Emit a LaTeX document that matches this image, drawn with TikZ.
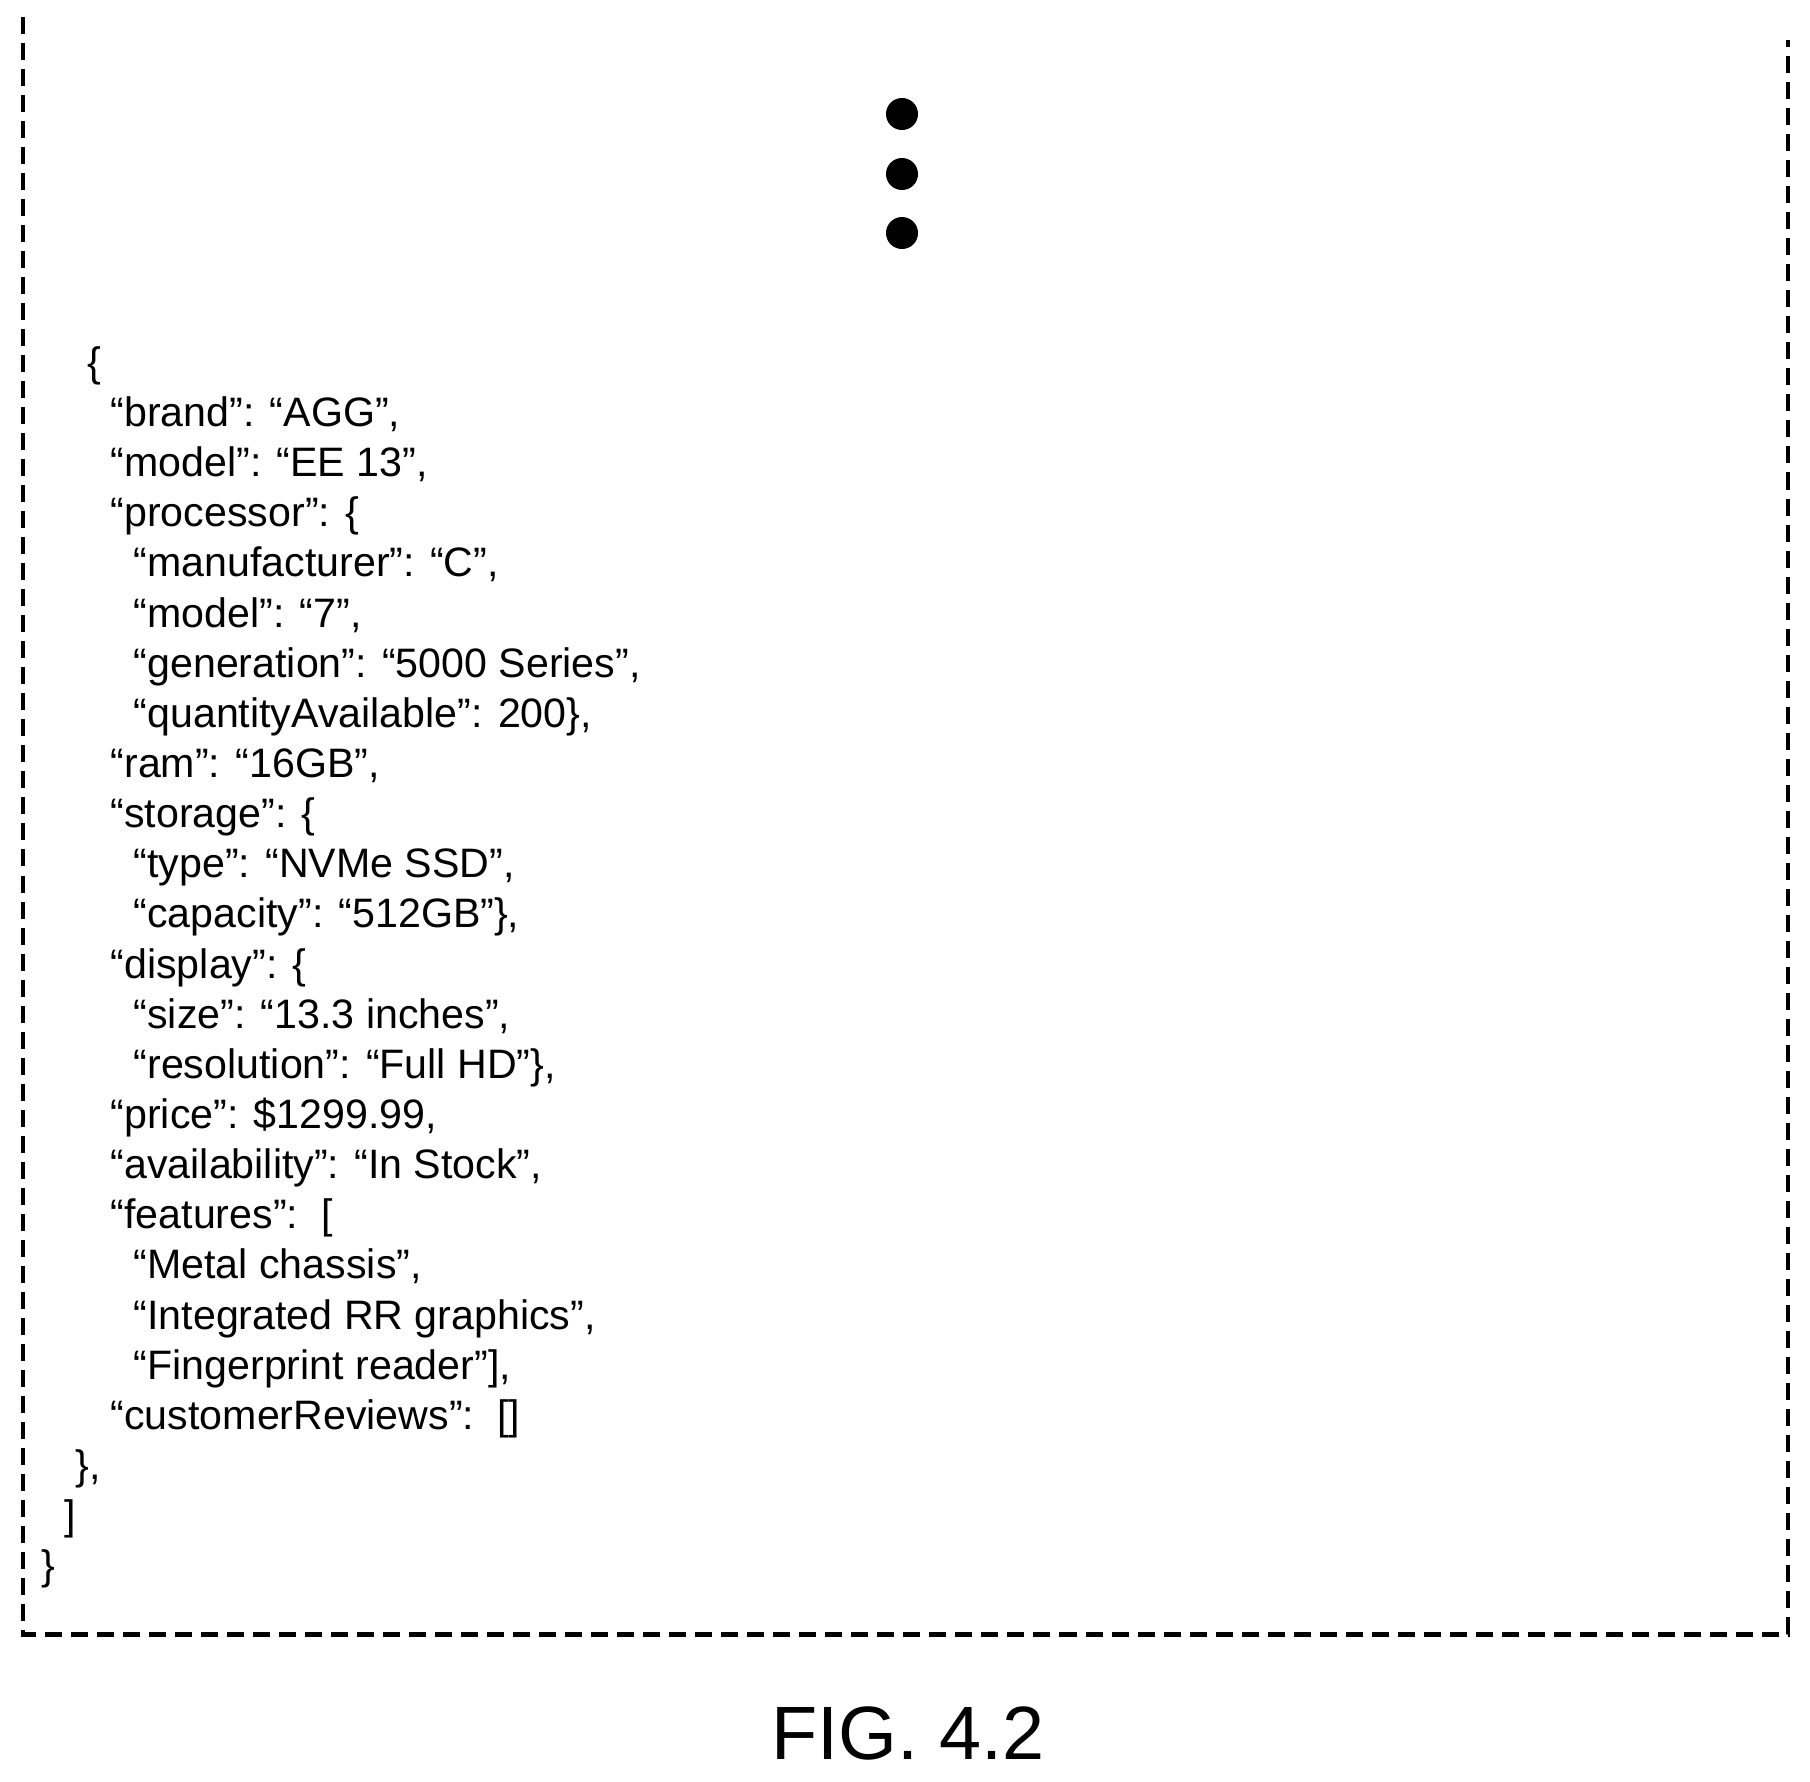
\documentclass[tikz,border=0pt]{standalone}
\usepackage{fontspec}
\setmainfont{Liberation Sans}
\usetikzlibrary{positioning}

\begin{document}
\begin{tikzpicture}[x=0.01cm,y=-0.01cm]
\tikzstyle{frame}=[line width=1.4pt,dash pattern=on 0.17cm off 0.09cm]
\tikzstyle{code}=[anchor=base west,inner sep=0pt,font=\fontsize{11.7pt}{14pt}\selectfont]
\tikzstyle{dot}=[circle,fill,inner sep=0pt,minimum size=0.32cm]

\useasboundingbox (0,0) rectangle (1810,1781);

% frame, open at the top
\coordinate (tl) at (23,17);
\coordinate (bl) at (23,1634);
\coordinate (br) at (1788,1634);
\coordinate (tr) at (1788,40);
\draw[frame] (tl) -- (bl) -- (br) -- (tr);

% ellipsis
\node (d1) [dot] at (902,114) {};
\node (d2) [dot] at (902,174) {};
\node (d3) [dot] at (902,233) {};

% code lines
\node (l0)  [code] at (87,376)  {\{};
\node (l1)  [code] at (110,426) {“brand”: “AGG”,};
\node (l2)  [code] at (110,476) {“model”: “EE 13”,};
\node (l3)  [code] at (110,526) {“processor”: \{};
\node (l4)  [code] at (133,576) {“manufacturer”: “C”,};
\node (l5)  [code] at (133,627) {“model”: “7”,};
\node (l6)  [code] at (133,677) {“generation”: “5000 Series”,};
\node (l7)  [code] at (133,727) {“quantityAvailable”: 200\},};
\node (l8)  [code] at (110,777) {“ram”: “16GB”,};
\node (l9)  [code] at (110,827) {“storage”: \{};
\node (l10) [code] at (133,877) {“type”: “NVMe SSD”,};
\node (l11) [code] at (133,927) {“capacity”: “512GB”\},};
\node (l12) [code] at (110,978) {“display”: \{};
\node (l13) [code] at (133,1028) {“size”: “13.3 inches”,};
\node (l14) [code] at (133,1078) {“resolution”: “Full HD”\},};
\node (l15) [code] at (110,1128) {“price”: \$1299.99,};
\node (l16) [code] at (110,1178) {“availability”: “In Stock”,};
\node (l17) [code] at (110,1228) {“features”:~~[};
\node (l18) [code] at (133,1278) {“Metal chassis”,};
\node (l19) [code] at (133,1329) {“Integrated RR graphics”,};
\node (l20) [code] at (133,1379) {“Fingerprint reader”],};
\node (l21) [code] at (110,1429) {“customerReviews”:~~[]};
\node (l22) [code] at (75,1479) {\},};
\node (l23) [code] at (64,1529) {]};
\node (l24) [code] at (41,1579) {\}};

% caption
\node (fig) [font=\fontsize{21.5pt}{26pt}\selectfont] at (908,1733) {FIG. 4.2};
\end{tikzpicture}
\end{document}
